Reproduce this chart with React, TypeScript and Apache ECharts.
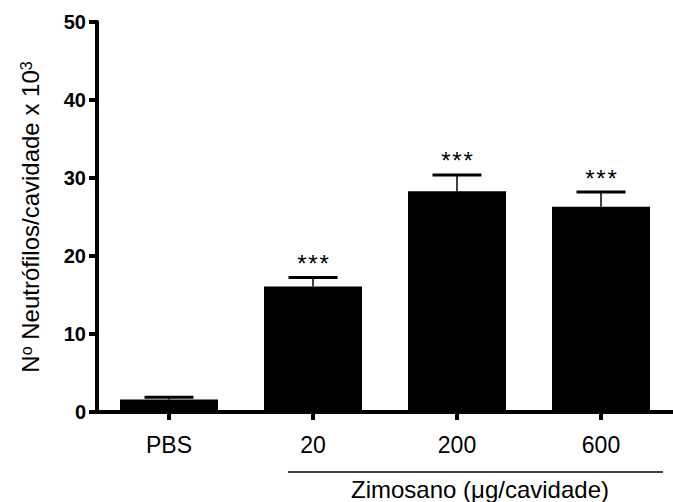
import React, { useEffect, useRef } from "react";
import * as echarts from "echarts";

const categories = ["PBS", "20", "200", "600"];
const means = [1.6, 16.1, 28.3, 26.3];
const sems = [0.3, 1.15, 2.1, 1.9];
const signif = ["", "***", "***", "***"];
const yTicks = { min: 0, max: 50, interval: 10 };
const yTitle = "N{sup|o} Neutrófilos/cavidade x 10{sup|3}";
const groupLabel = "Zimosano (μg/cavidade)";

const FONT = "'Liberation Sans', Arial, Helvetica, sans-serif";

export default function App() {
  const ref = useRef<HTMLDivElement>(null);
  useEffect(() => {
    if (!ref.current) return;
    const chart = echarts.init(ref.current, null, { renderer: "svg" });
    chart.setOption({
      animation: false,
      backgroundColor: "#ffffff",
      grid: { left: 97, top: 22, width: 584, height: 390 },
      xAxis: {
        type: "category",
        data: categories,
        axisLine: { lineStyle: { color: "#000", width: 4 } },
        axisTick: { show: true, alignWithLabel: true, length: 8, lineStyle: { color: "#000", width: 4 } },
        axisLabel: { color: "#000", fontSize: 23, fontFamily: FONT, margin: 21 },
      },
      yAxis: {
        type: "value",
        min: yTicks.min,
        max: yTicks.max,
        interval: yTicks.interval,
        splitLine: { show: false },
        axisLine: { show: true, lineStyle: { color: "#000", width: 4 } },
        axisTick: { show: true, length: 8, lineStyle: { color: "#000", width: 4 } },
        axisLabel: { color: "#000", fontSize: 20, fontWeight: "bold", fontFamily: FONT, margin: 11 },
        name: yTitle,
        nameLocation: "middle",
        nameRotate: 90,
        nameGap: 55,
        nameTextStyle: {
          color: "#000",
          fontSize: 24,
          fontFamily: FONT,
          rich: {
            sup: { fontSize: 16, fontFamily: FONT, color: "#000", verticalAlign: "top", lineHeight: 16 },
          },
        },
      },
      series: [
        {
          type: "bar",
          data: means,
          barWidth: 98,
          itemStyle: { color: "#000" },
          silent: true,
        },
        {
          type: "custom",
          silent: true,
          data: means.map((m, i) => [i, m, sems[i]]),
          renderItem: (params: any, api: any) => {
            const i = api.value(0);
            const m = api.value(1);
            const e = api.value(2);
            const base = api.coord([i, m]);
            const top = api.coord([i, m + e]);
            const cap = 49;
            const children: any[] = [
              {
                type: "line",
                shape: { x1: base[0], y1: base[1], x2: base[0], y2: top[1] },
                style: { stroke: "#000", lineWidth: 1.5 },
              },
              {
                type: "line",
                shape: { x1: base[0] - cap / 2, y1: top[1], x2: base[0] + cap / 2, y2: top[1] },
                style: { stroke: "#000", lineWidth: 3 },
              },
            ];
            const s = signif[params.dataIndex];
            if (s) {
              const n = s.length;
              for (let k = 0; k < n; k++) {
                children.push({
                  type: "text",
                  x: base[0] + (k - (n - 1) / 2) * 11.2,
                  y: top[1] - 14,
                  style: {
                    text: s[k],
                    fill: "#000",
                    font: `24px ${FONT}`,
                    align: "center",
                    verticalAlign: "middle",
                  },
                });
              }
            }
            return { type: "group", children };
          },
        },
      ],
      graphic: [
        {
          type: "line",
          shape: { x1: 288, y1: 472, x2: 663, y2: 472 },
          style: { stroke: "#000", lineWidth: 1.5 },
        },
        {
          type: "text",
          x: 480,
          y: 489,
          style: {
            text: groupLabel,
            fill: "#000",
            font: `24px ${FONT}`,
            align: "center",
            verticalAlign: "middle",
          },
        },
      ],
    });
    return () => chart.dispose();
  }, []);
  return (
    <div
      ref={ref}
      style={{ position: "fixed", left: 0, top: 0, width: 673, height: 502, background: "#fff" }}
    />
  );
}
